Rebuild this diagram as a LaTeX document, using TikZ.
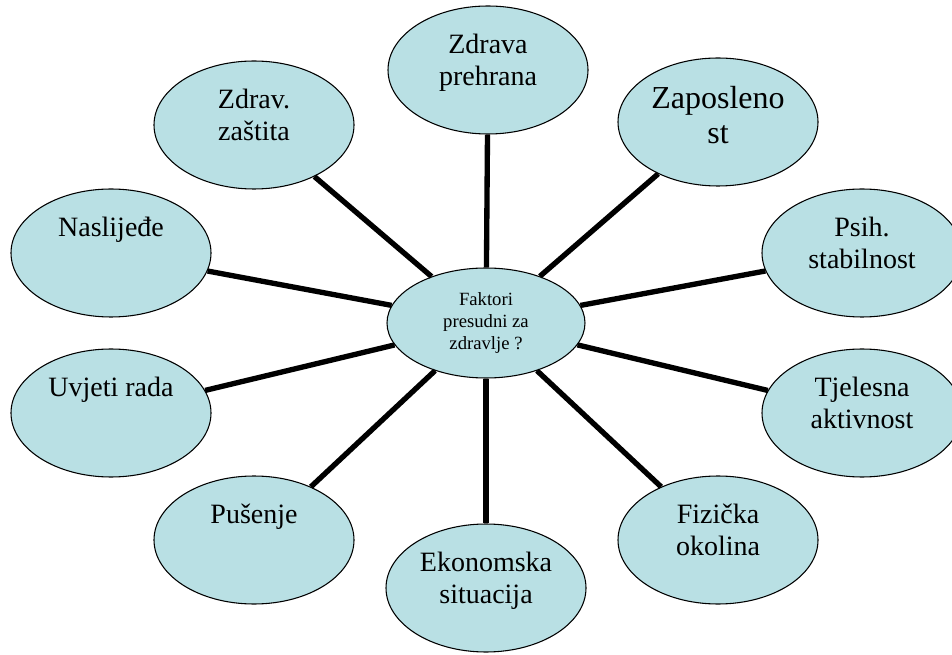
\documentclass[tikz,border=0pt]{standalone}
\usepackage{fontspec}
\setmainfont{Liberation Serif}
\usepackage{tikz}
\usetikzlibrary{shapes.geometric}
\definecolor{facfill}{HTML}{B9E0E4}
\newcommand{\ftop}[1]{\parbox[c][54pt][t]{104pt}{\centering #1}}

\begin{document}
\begin{tikzpicture}[
  x=0.75pt,y=-0.75pt,
  fac/.style={ellipse,draw=black,line width=0.8pt,fill=facfill,inner sep=0pt,
              minimum width=150pt,minimum height=96pt,font=\fontsize{21}{24}\selectfont},
  hub/.style={ellipse,draw=black,line width=0.8pt,fill=facfill,inner sep=0pt,
              minimum width=148.5pt,minimum height=82.5pt,align=center,
              font=\fontsize{14}{16.5}\selectfont},
  spoke/.style={line width=4pt,black}
]
\useasboundingbox (0,0) rectangle (952,655);

\node[hub] (hub) at (486,323) {Faktori\\presudni za\\zdravlje ?};

\node[fac] (prehr) at (488,70) {\ftop{Zdrava\\prehrana}};
\node[fac,font=\fontsize{24}{26.5}\selectfont] (zapos) at (718,122) {\ftop{Zaposleno\\st}};
\node[fac] (psih) at (862,253) {\ftop{Psih.\\stabilnost}};
\node[fac] (tjel) at (862,413) {\ftop{Tjelesna\\aktivnost}};
\node[fac] (fiz) at (718,540) {\ftop{Fizička\\okolina}};
\node[fac] (ekon) at (486,588) {\ftop{Ekonomska\\situacija}};
\node[fac] (pus) at (254,540) {\ftop{Pušenje}};
\node[fac] (uvj) at (111,413) {\ftop{Uvjeti rada}};
\node[fac] (nasl) at (111,253) {\ftop{Naslijeđe}};
\node[fac] (zast) at (254,125) {\ftop{Zdrav.\\zaštita}};

\draw[spoke] (hub) -- (prehr);
\draw[spoke] (hub) -- (zapos);
\draw[spoke] (hub) -- (psih);
\draw[spoke] (hub) -- (tjel);
\draw[spoke] (hub) -- (fiz);
\draw[spoke] (hub) -- (ekon);
\draw[spoke] (hub) -- (pus);
\draw[spoke] (hub) -- (uvj);
\draw[spoke] (hub) -- (nasl);
\draw[spoke] (hub) -- (zast);
\end{tikzpicture}
\end{document}
